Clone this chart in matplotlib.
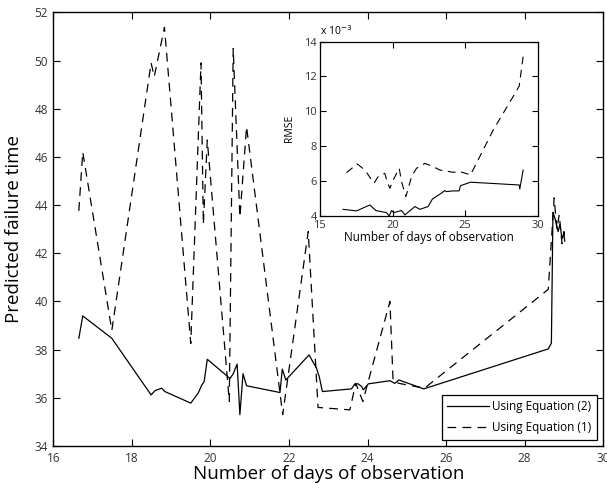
import numpy as np
import matplotlib
matplotlib.use('Agg')
import matplotlib.pyplot as plt

# ----------------------------------------
# data
# ----------------------------------------
# predicted failure time, Equation (2)
days_eq2 = [16.65, 16.75, 17.49, 18.49, 18.59, 18.76, 18.84, 19.50, 19.69, 19.78,
            19.84, 19.92, 20.50, 20.58, 20.68, 20.75, 20.83, 20.92, 21.77, 21.83,
            21.92, 22.00, 22.51, 22.70, 22.77, 22.85, 23.59, 23.68, 23.76, 23.85,
            23.89, 24.02, 24.57, 24.69, 24.80, 25.43, 28.60, 28.68, 28.72, 28.78,
            28.85, 28.90, 28.95, 29.00, 29.02]
pred_eq2 = [38.47, 39.40, 38.47, 36.12, 36.30, 36.40, 36.26, 35.78, 36.20, 36.53,
            36.67, 37.60, 36.80, 37.00, 37.40, 35.30, 37.00, 36.50, 36.22, 37.19,
            36.74, 36.88, 37.78, 37.23, 36.88, 36.26, 36.37, 36.58, 36.58, 36.47,
            36.33, 36.58, 36.71, 36.60, 36.74, 36.37, 38.03, 38.27, 43.70, 43.40,
            42.90, 43.20, 42.60, 42.80, 42.50]

# predicted failure time, Equation (1)
days_eq1 = [16.65, 16.75, 17.49, 18.49, 18.57, 18.83, 19.50, 19.76, 19.82, 19.92,
            20.48, 20.58, 20.75, 20.92, 21.84, 22.49, 22.74, 23.55, 23.70, 23.88,
            24.57, 24.65, 24.80, 25.45, 28.60, 28.75, 28.82, 28.88, 28.95, 29.00,
            29.02]
pred_eq1 = [43.76, 46.20, 38.80, 49.90, 49.33, 51.38, 38.26, 49.90, 43.20, 46.70,
            35.85, 50.50, 43.50, 47.25, 35.30, 42.90, 35.60, 35.50, 36.60, 35.85,
            40.00, 36.70, 36.60, 36.40, 40.50, 44.30, 43.00, 43.60, 42.40, 42.90,
            42.50]

# RMSE (x 1e-3)
rmse_days_eq2 = [16.60, 17.52, 18.44, 18.85, 19.59, 19.77, 19.93, 20.09, 20.62, 20.85,
                 21.54, 21.88, 22.45, 22.75, 23.26, 23.60, 23.70, 24.17, 24.58, 24.68,
                 25.37, 28.72, 28.76, 28.99]
rmse_eq2 = [4.36, 4.27, 4.61, 4.29, 4.17, 3.98, 4.29, 4.17, 4.29, 4.04,
            4.52, 4.36, 4.52, 4.96, 5.23, 5.44, 5.38, 5.42, 5.42, 5.72,
            5.92, 5.76, 5.53, 6.62]

rmse_days_eq1 = [16.83, 17.57, 18.10, 18.72, 19.01, 19.47, 19.63, 19.82, 20.05, 20.46,
                 20.62, 20.92, 21.31, 21.65, 22.22, 22.68, 23.26, 24.17, 24.63, 25.37,
                 25.89, 26.93, 28.30, 28.72, 28.99]
rmse_eq1 = [6.47, 6.97, 6.62, 5.86, 6.24, 6.43, 5.95, 5.57, 6.05, 6.72,
            5.95, 5.09, 6.24, 6.72, 7.00, 6.86, 6.62, 6.49, 6.53, 6.34,
            7.20, 8.92, 10.84, 11.45, 13.14]

font = 'Open Sans'
dash = (7, 5)

# ----------------------------------------
# main plot
# ----------------------------------------
fig = plt.figure(figsize=(6.07, 4.90), dpi=100)
ax = fig.add_axes([0.0878, 0.0898, 0.906, 0.885])
ax.plot(days_eq2, pred_eq2, color='black', lw=0.9, label='Using Equation (2)')
ax.plot(days_eq1, pred_eq1, color='black', lw=0.9, linestyle='--', dashes=dash,
        label='Using Equation (1)')
ax.set_xlim(16, 30)
ax.set_ylim(34, 52)
ax.set_xticks(np.arange(16, 31, 2))
ax.set_yticks(np.arange(34, 53, 2))
ax.tick_params(direction='in', top=True, right=True, length=5, width=0.8,
               labelsize=8.5, pad=4)
for lab in ax.get_xticklabels() + ax.get_yticklabels():
    lab.set_family(font)
    lab.set_color('#333333')
for sp in ax.spines.values():
    sp.set_linewidth(1.0)
ax.set_xlabel('Number of days of observation', fontsize=13.5, family=font, labelpad=0)
ax.set_ylabel('Predicted failure time', fontsize=13.5, family=font, labelpad=8)

leg = ax.legend(loc='lower right', fancybox=False, framealpha=1, edgecolor='black',
                prop={'family': font, 'size': 8.5}, borderaxespad=0.55,
                handlelength=3.5, handletextpad=0.3, labelspacing=0.7,
                borderpad=0.45)
leg.get_frame().set_linewidth(0.9)

# ----------------------------------------
# inset: RMSE
# ----------------------------------------
ins = fig.add_axes([0.527, 0.560, 0.359, 0.355])
ins.plot(rmse_days_eq2, rmse_eq2, color='black', lw=0.8)
ins.plot(rmse_days_eq1, rmse_eq1, color='black', lw=0.8, linestyle='--', dashes=dash)
ins.set_xlim(15, 30)
ins.set_ylim(4, 14)
ins.set_xticks([15, 20, 25, 30])
ins.set_yticks(np.arange(4, 15, 2))
ins.tick_params(direction='in', top=True, right=True, length=4, width=0.8,
                labelsize=8, pad=2)
ins.tick_params(axis='x', pad=3)
for lab in ins.get_xticklabels() + ins.get_yticklabels():
    lab.set_family(font)
    lab.set_color('#333333')
for sp in ins.spines.values():
    sp.set_linewidth(0.9)
ins.set_xlabel('Number of days of observation', fontsize=8.5, family=font, labelpad=0)
ins.set_ylabel('RMSE', fontsize=7.5, family=font, labelpad=7)
ins.text(0.0, 1.02, r'x 10$^{-3}$', transform=ins.transAxes, fontsize=7.5,
         family=font, ha='left', va='bottom')

fig.savefig('out.png', dpi=100)
